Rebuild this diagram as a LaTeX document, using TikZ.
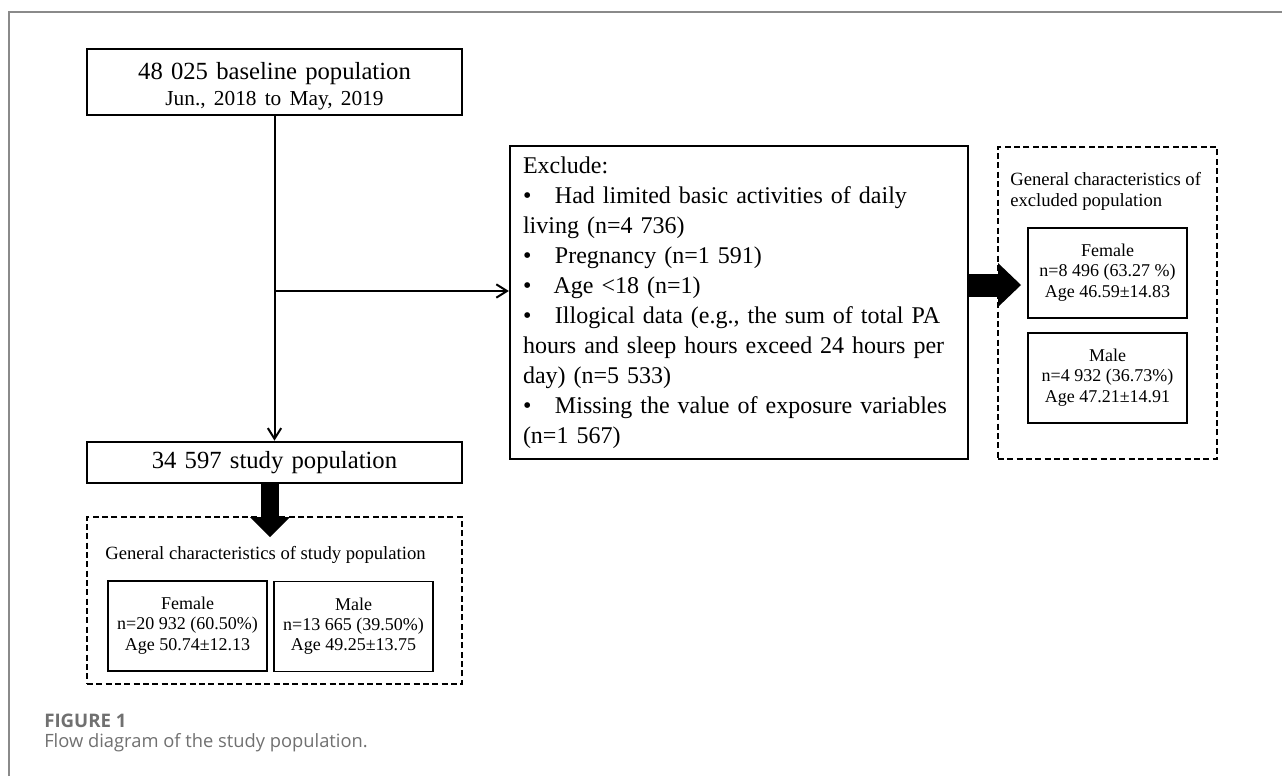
\documentclass[tikz,border=0pt]{standalone}
\usepackage{fontspec}
\setmainfont{Liberation Serif}
\newfontfamily\captionfont{Open Sans}
\usetikzlibrary{arrows.meta, positioning}
\definecolor{FrameGray}{HTML}{8A8A8A}
\definecolor{CaptionGray}{HTML}{707070}
\newcommand\rowstrut{\rule[-4.6pt]{0pt}{15pt}}

\tikzset{
  mainbox/.style={draw, line width=2pt, minimum width=281.25pt, text width=281.25pt,
                  inner sep=0pt, align=center},
  charframe/.style={draw, line width=1.5pt, dash pattern=on 4.5pt off 2.5pt, minimum width=#1},
  charframe/.default=281.25pt,
  sexbox/.style={draw, line width=1.1pt, minimum width=119.25pt, minimum height=67.5pt,
                 inner sep=0pt, font=\fontsize{13.5}{15}\selectfont},
  thinarrow/.style={line width=1.5pt, -{Straight Barb[length=8pt, width=10pt]}},
  fatarrow/.style n args={3}{line width=#1, -{Triangle[length=#2, width=#3, line width=0pt]}}
}

\begin{document}
\begin{tikzpicture}[x=0.75pt, y=-0.75pt]
  \useasboundingbox (0,0) rectangle (1282,776);
  % panel frame
  \draw[FrameGray, line width=1.1pt] (9,776) -- (9,12) -- (1282,12);

  % main flow
  \node[mainbox, minimum height=49.5pt, font=\fontsize{18.5}{19.5}\selectfont] (baseline)
    at (274.5,82)
    {\rule{0pt}{19pt}48 025 baseline population\\
     \fontsize{16}{19.5}\selectfont Jun., 2018 to May, 2019};
  \node[mainbox, minimum height=30.75pt, font=\fontsize{18.5}{22}\selectfont] (study)
    at (274.5,462.5) {34 597 study population};
  \node[draw, line width=1.7pt, minimum width=343.5pt, minimum height=234.75pt,
        text width=324pt, inner xsep=9.75pt, align=left,
        font=\fontsize{18}{22.5}\selectfont] (exclude) at (739,302.5)
    {Exclude:\\
     \makebox[24pt][l]{•}Had limited basic activities of daily\\
     living (n=4 736)\\
     \makebox[24pt][l]{•}Pregnancy (n=1 591)\\
     \makebox[23pt][l]{•}Age <18 (n=1)\\
     \makebox[24pt][l]{•}Illogical data (e.g., the sum of total PA\\
     hours and sleep hours exceed 24 hours per\\
     day) (n=5 533)\\
     \makebox[24pt][l]{•}Missing the value of exposure variables\\
     (n=1 567)};

  % characteristics frames
  \node[charframe, minimum height=125.25pt] (studychar) at (274.5,600.5) {};
  \node[font=\fontsize{14}{16}\selectfont, inner sep=0pt] (studytitle) at (265.5,555)
    {General characteristics of study population};
  \node[charframe=164.25pt, minimum height=234pt] (exclchar) at (1107.5,303) {};
  \node[anchor=west, align=left, inner sep=0pt, font=\fontsize{14}{16}\selectfont]
    (excltitle) at (1010,191.5) {General characteristics of\\ excluded population};

  \foreach \nm/\cx/\cy/\sex/\cnt/\age in {
    fstudy/187.5/626/Female/{n=20 932 (60.50\%)}/{50.74±12.13},
    mstudy/353.5/626.5/Male/{n=13 665 (39.50\%)}/{49.25±13.75},
    fexcl/1107.5/273/Female/{n=8 496 (63.27 \%)}/{46.59±14.83},
    mexcl/1107.5/378/Male/{n=4 932 (36.73\%)}/{47.21±14.91}
  }{
    \node[sexbox] (\nm) at (\cx,\cy)
      {\begin{tabular}{@{}c@{}}\rowstrut\sex\\ \rowstrut\cnt\\ \rowstrut Age \age\end{tabular}};
  }

  % connectors
  \draw[thinarrow] (baseline) -- (study);
  \coordinate (branch) at (baseline.south |- 0,291);
  \draw[thinarrow] (branch) -- (branch -| exclude.west);
  \coordinate (downtip) at (270,537);
  \draw[fatarrow={13.5pt}{15pt}{30pt}] (study.south -| downtip) -- (downtip);
  \coordinate (righttip) at (1021,285);
  \draw[fatarrow={17.25pt}{17.25pt}{33pt}] (exclude.east |- righttip) -- (righttip);

  % caption
  \node[anchor=west, inner sep=0pt, text=CaptionGray,
        font=\captionfont\fontsize{14}{15}\selectfont\bfseries] (figlabel) at (44,721) {FIGURE 1};
  \node[anchor=west, inner sep=0pt, text=CaptionGray,
        font=\captionfont\fontsize{13.75}{15}\selectfont] (figtitle) at (44,743)
    {Flow diagram of the study population.};
\end{tikzpicture}
\end{document}
